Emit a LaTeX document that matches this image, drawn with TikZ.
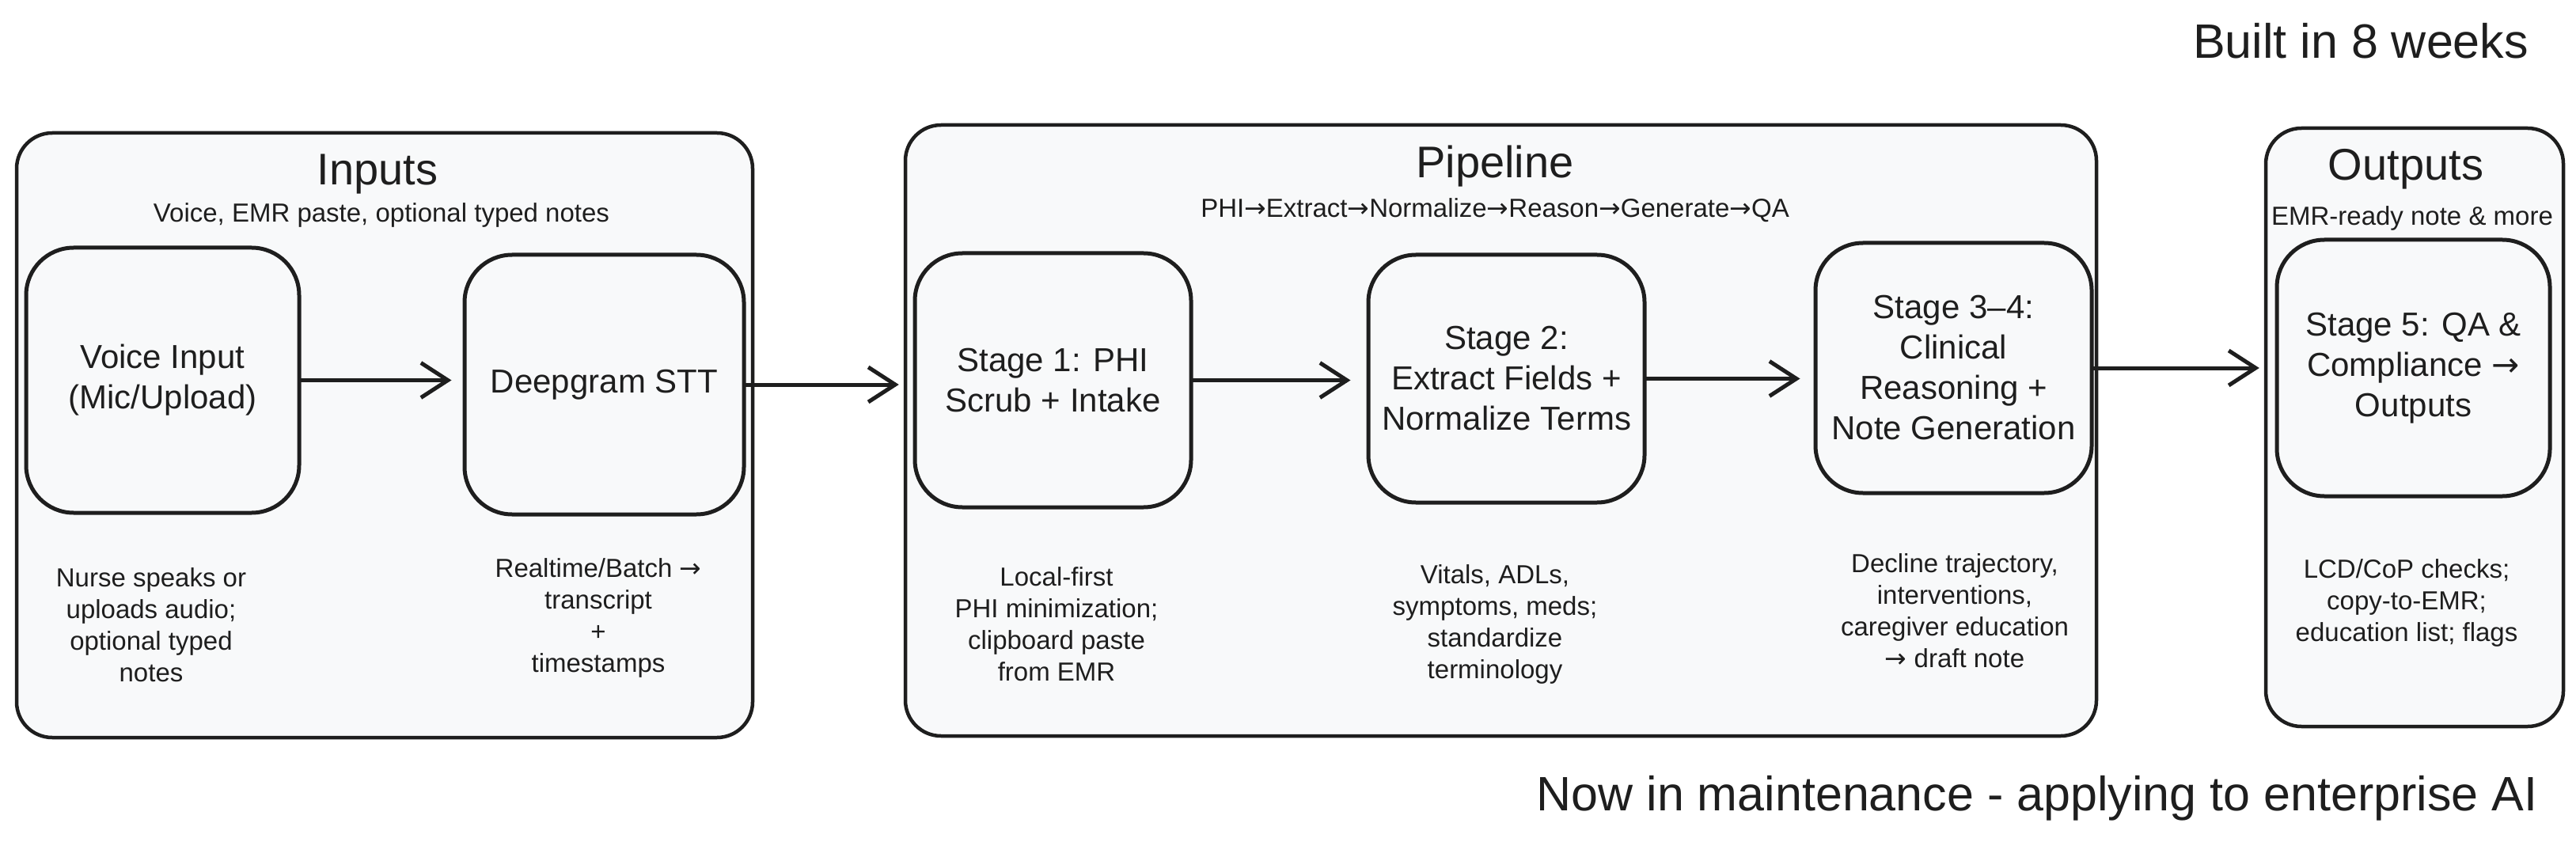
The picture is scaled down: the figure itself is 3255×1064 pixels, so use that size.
\documentclass[tikz,border=0pt]{standalone}
\usepackage{fontspec}
\setmainfont{Liberation Sans}
\newfontfamily\arrowfont{DejaVu Sans}
\newcommand\rarr{{\arrowfont →}}
\usetikzlibrary{arrows.meta}
\definecolor{ink}{HTML}{1E1E1E}
\definecolor{panel}{HTML}{F8F9FA}
\tikzset{
  container/.style={draw=ink, fill=panel, line width=4.5pt, rounded corners=45pt, inner sep=0pt},
  stagebox/.style={draw=ink, fill=panel, line width=5pt, rounded corners=60pt, inner sep=0pt,
    align=center, text=ink, font=\fontsize{42}{51}\selectfont},
  titletext/.style={text=ink, font=\fontsize{56}{66}\selectfont},
  subtext/.style={text=ink, font=\fontsize{33}{40}\selectfont},
  notetext/.style={text=ink, align=center, font=\fontsize{33}{40}\selectfont},
  bigtext/.style={text=ink, font=\fontsize{61}{71}\selectfont},
  flow/.style={draw=ink, line width=5pt, line cap=round,
    -{Straight Barb[length=34pt,width=44pt,line width=5pt]}},
}
\begin{document}
\begin{tikzpicture}[x=1pt,y=-1pt]
\useasboundingbox[fill=white] (0,0) rectangle (3255,1064);

% containers
\node[container, minimum width=930pt, minimum height=764pt] (inp) at (486,550) {};
\node[container, minimum width=1505pt, minimum height=772pt] (pipe) at (1896.5,544) {};
\node[container, minimum width=376pt, minimum height=756pt] (out) at (3051,540) {};

% titles
\node[titletext] (inpT) at (477,220) {Inputs};
\node[subtext] (inpS) at (482,272) {Voice, EMR paste, optional typed notes};
\node[titletext] (pipeT) at (1889,210) {Pipeline};
\node[subtext] (pipeS) at (1889,266) {PHI\rarr Extract\rarr Normalize\rarr Reason\rarr Generate\rarr QA};
\node[titletext] (outT) at (3040,214) {Outputs};
\node[subtext] (outS) at (3048,276) {EMR-ready note \& more};

% boxes
\node[stagebox, minimum width=345pt, minimum height=335pt] (voice) at (205.5,480.5) {Voice Input\\(Mic/Upload)};
\node[stagebox, minimum width=353pt, minimum height=328pt] (deep) at (763.5,486) {Deepgram STT};
\node[stagebox, minimum width=349pt, minimum height=321pt] (st1) at (1330.5,480.5) {Stage 1: PHI\\Scrub + Intake};
\node[stagebox, minimum width=349pt, minimum height=313pt] (st2) at (1903.5,478.5) {Stage 2:\\Extract Fields +\\Normalize Terms};
\node[stagebox, minimum width=349pt, minimum height=316pt] (st3) at (2468.5,465) {Stage 3–4:\\Clinical\\Reasoning +\\Note Generation};
\node[stagebox, minimum width=345pt, minimum height=324pt] (st5) at (3049.5,465) {Stage 5: QA \&\\Compliance \rarr\\Outputs};

% notes
\node[notetext] (n1) at (191,790) {Nurse speaks or\\uploads audio;\\optional typed\\notes};
\node[notetext] (n2) at (756,781) {Realtime/Batch \rarr\\transcript\\+\\timestamps};
\node[notetext] (n3) at (1335,789) {Local-first\\PHI minimization;\\clipboard paste\\from EMR};
\node[notetext] (n4) at (1889,789) {Vitals, ADLs,\\symptoms, meds;\\standardize\\terminology};
\node[notetext] (n5) at (2470,772) {Decline trajectory,\\interventions,\\caregiver education\\\rarr\ draft note};
\node[notetext] (n6) at (3041,762) {LCD/CoP checks;\\copy-to-EMR;\\education list; flags};

% headline texts
\node[bigtext] (built) at (2983,52) {Built in 8 weeks};
\node[bigtext] (maint) at (2574,1009) {Now in maintenance - applying to enterprise AI};

% arrows
\draw[flow, shorten >=14pt] (voice.east) -- (voice.east -| deep.west);
\draw[flow, shorten >=6pt] (deep.east) -- (deep.east -| pipe.west);
\draw[flow, shorten >=20pt] (st1.east) -- (st1.east -| st2.west);
\draw[flow, shorten >=17pt] (st2.east) -- (st2.east -| st3.west);
\draw[flow, shorten >=6pt] (st3.east) -- (st3.east -| out.west);
\end{tikzpicture}
\end{document}
